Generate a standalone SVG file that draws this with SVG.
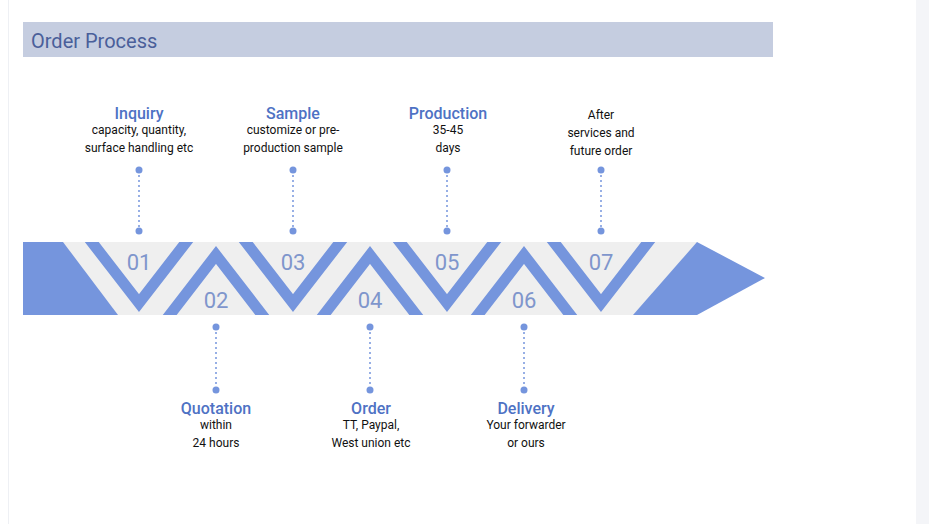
<svg xmlns="http://www.w3.org/2000/svg" width="929" height="524" viewBox="0 0 929 524">
<style>
.t{font-family:Roboto,"Liberation Sans",sans-serif;font-size:16px;font-weight:500;fill:#4e72c4;text-anchor:middle}
.d{font-family:Roboto,"Liberation Sans",sans-serif;font-size:12px;fill:#111;text-anchor:middle}
.n{font-family:Roboto,"Liberation Sans",sans-serif;font-size:22px;fill:#7f96cc;text-anchor:middle}
.z{fill:none;stroke:#7595dd;stroke-width:11}
.c{stroke:#7595dd;stroke-width:1.5;stroke-dasharray:2 3}
.p{fill:#7595dd}
</style>
<defs><clipPath id="band"><rect x="23" y="242" width="674" height="73"/></clipPath></defs>
<rect width="929" height="524" fill="#fff"/>
<rect x="916" y="0" width="13" height="524" fill="#f4f5f8"/>
<line x1="8.5" y1="0" x2="8.5" y2="524" stroke="#eef0f4"/>
<g id="header"><rect x="23" y="22" width="750" height="35" fill="#c5cde0"/>
<text x="31" y="48" font-family="Roboto,'Liberation Sans',sans-serif" font-size="20" fill="#4a5f9a">Order Process</text></g>
<g id="band-arrow">
<rect x="23" y="242" width="674" height="73" fill="#efefef"/>
<polygon class="p" points="23,242 63,242 118,315 23,315"/>
<polygon class="p" points="697,242 765,278 697,315 633,315"/>
<g clip-path="url(#band)">
<polyline class="z" points="84,232 139,303 194,232"/>
<polyline class="z" points="238,232 293,303 348,232"/>
<polyline class="z" points="392,232 447,303 502,232"/>
<polyline class="z" points="546,232 601,303 656,232"/>
<polyline class="z" points="162,325 216,255 270,325"/>
<polyline class="z" points="316,325 370,255 424,325"/>
<polyline class="z" points="470,325 524,255 578,325"/>
</g>
<text class="n" x="139" y="270">01</text><text class="n" x="216" y="308">02</text>
<text class="n" x="293" y="270">03</text><text class="n" x="370" y="308">04</text>
<text class="n" x="447" y="270">05</text><text class="n" x="524" y="308">06</text>
<text class="n" x="601" y="270">07</text>
</g>
<g id="connectors">
<line class="c" x1="139" y1="170" x2="139" y2="231"/><line class="c" x1="293" y1="170" x2="293" y2="231"/>
<line class="c" x1="447" y1="170" x2="447" y2="231"/><line class="c" x1="601" y1="170" x2="601" y2="231"/>
<line class="c" x1="216" y1="327" x2="216" y2="390"/><line class="c" x1="370" y1="327" x2="370" y2="390"/>
<line class="c" x1="524" y1="327" x2="524" y2="390"/>
<g class="p"><circle cx="139" cy="170" r="3.5"/><circle cx="139" cy="231" r="3.5"/><circle cx="293" cy="170" r="3.5"/><circle cx="293" cy="231" r="3.5"/><circle cx="447" cy="170" r="3.5"/><circle cx="447" cy="231" r="3.5"/><circle cx="601" cy="170" r="3.5"/><circle cx="601" cy="231" r="3.5"/><circle cx="216" cy="327" r="3.5"/><circle cx="216" cy="390" r="3.5"/><circle cx="370" cy="327" r="3.5"/><circle cx="370" cy="390" r="3.5"/><circle cx="524" cy="327" r="3.5"/><circle cx="524" cy="390" r="3.5"/></g>
</g>
<g id="inquiry"><text class="t" x="139" y="119">Inquiry</text><text class="d" x="139" y="134">capacity, quantity,</text><text class="d" x="139" y="152">surface handling etc</text></g>
<g id="sample"><text class="t" x="293" y="119">Sample</text><text class="d" x="293" y="134">customize or pre-</text><text class="d" x="293" y="152">production sample</text></g>
<g id="production"><text class="t" x="448" y="119">Production</text><text class="d" x="448" y="134">35-45</text><text class="d" x="448" y="152">days</text></g>
<g id="after"><text class="d" x="601" y="119">After</text><text class="d" x="601" y="137">services and</text><text class="d" x="601" y="155">future order</text></g>
<g id="quotation"><text class="t" x="216" y="414">Quotation</text><text class="d" x="216" y="429">within</text><text class="d" x="216" y="447">24 hours</text></g>
<g id="order"><text class="t" x="371" y="414">Order</text><text class="d" x="371" y="429">TT, Paypal,</text><text class="d" x="371" y="447">West union etc</text></g>
<g id="delivery"><text class="t" x="526" y="414">Delivery</text><text class="d" x="526" y="429">Your forwarder</text><text class="d" x="526" y="447">or ours</text></g>
</svg>
